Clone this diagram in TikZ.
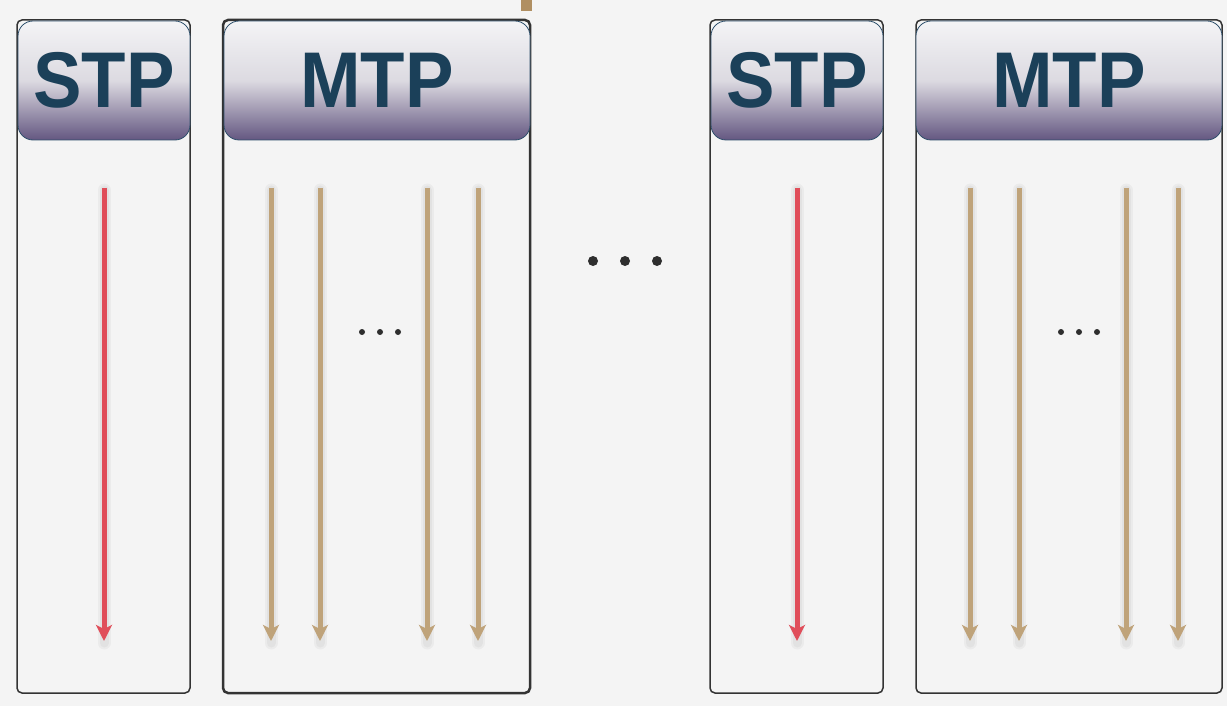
\documentclass[tikz,border=0pt]{standalone}
\usepackage{fontspec}
\setmainfont{Liberation Sans}
\usetikzlibrary{arrows.meta}
\definecolor{bgc}{HTML}{F4F4F4}
\definecolor{boxc}{HTML}{333333}
\definecolor{hdrtop}{HTML}{F4F4F6}
\definecolor{hdrmid}{HTML}{DCDAE1}
\definecolor{hdrbot}{HTML}{645781}
\definecolor{hdrline}{HTML}{2E4F6B}
\definecolor{txtc}{HTML}{1B4059}
\definecolor{redc}{HTML}{E04E5A}
\definecolor{tanc}{HTML}{BFA37A}
\definecolor{markc}{HTML}{B08F62}
\definecolor{dotc}{HTML}{2E2E2E}
\newcommand{\hdrtext}[1]{\scalebox{0.92}[1]{#1}}
\tikzset{
  outerbox/.style={draw=boxc, line width=1.5pt, rounded corners=5pt, minimum height=673pt, inner sep=0pt},
  hdr/.style={draw=hdrline, line width=0.8pt, rounded corners=15pt, minimum height=119pt, inner sep=0pt,
    top color=hdrtop, bottom color=hdrbot, middle color=hdrmid,
    font=\fontsize{79}{79}\selectfont\bfseries, text=txtc},
  flow/.style={line width=5pt, -{Stealth[length=16pt,width=16pt,inset=4pt]}},
  redflow/.style={flow, draw=redc, color=redc},
  tanflow/.style={flow, draw=tanc, color=tanc},
  shad/.style={line width=#1, draw=black, opacity=0.035, line cap=round},
  bigdot/.style={circle, fill=dotc, inner sep=0pt, minimum size=10pt},
  smalldot/.style={circle, fill=dotc, inner sep=0pt, minimum size=6pt},
}
\begin{document}
\begin{tikzpicture}[x=1pt,y=-1pt]
\fill[bgc] (0,0) rectangle (1227,706);
\useasboundingbox (0,0) rectangle (1227,706);
% top mark
\fill[markc] (521,0) rectangle (532,11);
% outer boxes
\node[outerbox, minimum width=173pt] (b1) at (103.5,356.5) {};
\node[outerbox, minimum width=307pt, line width=2.5pt] (b2) at (376.5,356.5) {};
\node[outerbox, minimum width=173pt] (b3) at (796.5,356.5) {};
\node[outerbox, minimum width=306pt] (b4) at (1069,356.5) {};
% headers
\node[hdr, minimum width=172pt] (h1) at (104,80.5) {\hdrtext{STP}};
\node[hdr, minimum width=306pt] (h2) at (377,80.5) {\hdrtext{MTP}};
\node[hdr, minimum width=172pt] (h3) at (797,80.5) {\hdrtext{STP}};
\node[hdr, minimum width=306pt] (h4) at (1069,80.5) {\hdrtext{MTP}};
% arrow endpoints
\foreach \n/\x in {r1/104, a1/271, a2/320, a3/427, a4/478, r2/797, c1/970, c2/1019, c3/1126, c4/1178}{
  \coordinate (\n s) at (\x,188);
  \coordinate (\n e) at (\x,641);
  \draw[shad=13pt] ([yshift=-2pt]\n s) -- ([yshift=-2pt]\n e);
  \draw[shad=9pt] ([yshift=-2pt]\n s) -- ([yshift=-2pt]\n e);
}
\foreach \n in {r1,r2}{\draw[redflow] (\n s) -- (\n e);}
\foreach \n in {a1,a2,a3,a4,c1,c2,c3,c4}{\draw[tanflow] (\n s) -- (\n e);}
% dots
\node[smalldot] (d1) at (362,332) {};
\node[smalldot] (d2) at (380,332) {};
\node[smalldot] (d3) at (398,332) {};
\node[smalldot] (e1) at (1061,332) {};
\node[smalldot] (e2) at (1079,332) {};
\node[smalldot] (e3) at (1097,332) {};
\node[bigdot] (g1) at (593,261) {};
\node[bigdot] (g2) at (625,261) {};
\node[bigdot] (g3) at (657,261) {};
\end{tikzpicture}
\end{document}
